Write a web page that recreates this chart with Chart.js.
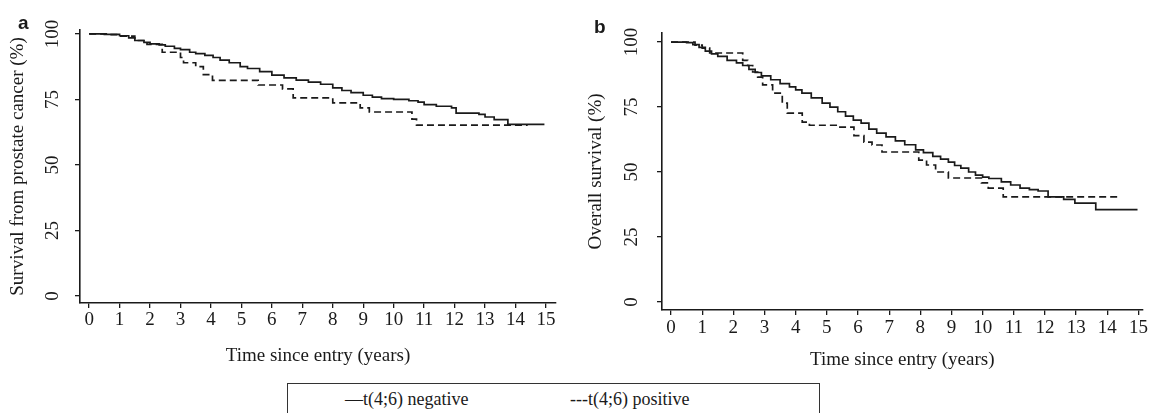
<!DOCTYPE html>
<html>
<head>
<meta charset="utf-8">
<script src="https://cdn.jsdelivr.net/npm/chart.js@4"></script>
<style>
  body { margin: 0; background: #fff; }
  #wrap { position: relative; width: 1150px; height: 413px; overflow: hidden; font-family: "Liberation Serif", serif; color: #1a1a1a; }
  canvas { position: absolute; top: 0; }
  .panel { position: absolute; font-family: "Liberation Sans", Arial, sans-serif; font-weight: bold; font-size: 19px; }
  #legendBox { position: absolute; left: 287px; top: 383px; width: 533px; height: 45px; border: 1.5px solid #333; box-sizing: border-box; }
  .leg { position: absolute; top: 389px; font-size: 18px; line-height: 21px; white-space: nowrap; }
</style>
</head>
<body>
<div id="wrap">
  <canvas id="chartA" width="575" height="375" style="left:0"></canvas>
  <canvas id="chartB" width="575" height="375" style="left:575px"></canvas>
  <div class="panel" style="left:18px; top:12px;">a</div>
  <div class="panel" style="left:594px; top:16px;">b</div>
  <div id="legendBox"></div>
  <div class="leg" style="left:345px;">—t(4;6) negative</div>
  <div class="leg" style="left:570px;">---t(4;6) positive</div>
</div>
<script>
// ===============================
//   DATOS
// ===============================
const xTicks = [0, 1, 2, 3, 4, 5, 6, 7, 8, 9, 10, 11, 12, 13, 14, 15];
const yTicks = [0, 25, 50, 75, 100];

// a — supervivencia por cáncer de próstata
const timeNegA = [0, 0.5, 1.0, 1.3, 1.5, 1.8, 2.0, 2.3, 2.5, 2.8, 3.0, 3.3, 3.5, 3.8, 4.07, 4.3, 4.6, 4.96, 5.2, 5.6, 6.0, 6.4, 6.8, 7.2, 7.6, 8.0, 8.3, 8.6, 9.0, 9.3, 9.6, 10.0, 10.5, 10.8, 11.0, 11.4, 11.9, 12.05, 12.8, 13.0, 13.3, 13.75, 14.95];
const survNegA = [100, 99.8, 99.3, 98.5, 97.5, 96.8, 96.2, 95.8, 95.3, 94.5, 94, 93, 92.5, 91.8, 91, 90, 89, 87.5, 86.8, 85.6, 84.3, 83.2, 82.4, 81.6, 80.8, 79.4, 78.4, 77.6, 76.6, 75.9, 75.3, 75, 74.5, 74, 73, 72.4, 71.8, 69.8, 69.3, 68.3, 67.3, 65.5, 65.5];
const timePosA = [0, 0.6, 1.0, 1.5, 1.9, 2.4, 3.0, 3.1, 3.5, 3.75, 4.05, 5.55, 6.35, 6.7, 8.0, 8.9, 9.2, 10.6, 10.75, 14.4];
const survPosA = [100, 99.7, 99.2, 97.5, 96, 93, 91, 89, 87.5, 84.5, 82.3, 80.5, 79, 75.6, 73.7, 71.8, 70.2, 67.5, 65.2, 65.2];

// b — supervivencia global
const timeNegB = [0, 0.5, 0.7, 0.9, 1.1, 1.3, 1.5, 1.8, 2.1, 2.3, 2.5, 2.7, 2.9, 3.2, 3.5, 3.8, 4.0, 4.2, 4.5, 4.85, 5.1, 5.35, 5.6, 5.85, 6.1, 6.35, 6.6, 6.9, 7.2, 7.5, 7.85, 8.1, 8.4, 8.65, 8.9, 9.1, 9.3, 9.55, 9.77, 10.0, 10.2, 10.6, 10.9, 11.2, 11.5, 11.78, 12.1, 12.6, 12.96, 13.63, 14.97];
const survNegB = [100, 99.8, 99, 98, 96.5, 95.5, 94.5, 93, 92, 91, 89.5, 88.3, 87, 85.5, 84, 82.8, 81.6, 80.4, 78.5, 76.5, 75, 73.2, 71.5, 70, 68.8, 66.5, 65, 63.5, 62, 60.5, 58.5, 57.5, 56, 55, 53.8, 52.5, 51.5, 50, 48.8, 48, 47.5, 46.2, 45, 43.8, 43.2, 42.7, 40.4, 39.5, 38, 35.5, 35.5];
const timePosB = [0, 0.77, 1.0, 1.24, 2.3, 2.46, 2.62, 2.78, 2.94, 3.26, 3.57, 3.73, 4.21, 4.44, 5.3, 5.87, 6.19, 6.45, 6.77, 7.95, 8.2, 8.49, 8.9, 9.96, 10.18, 10.66, 14.43];
const survPosB = [100, 98.8, 97.7, 95.8, 93, 91, 88.5, 86.5, 83.5, 80.4, 76.5, 72.7, 69.2, 68, 67.3, 64, 61.5, 60.4, 57.7, 54.6, 52.7, 50, 47.7, 45.8, 43.8, 40.4, 40.4];

const ink = "#1a1a1a";
const serif = "'Liberation Serif', 'Times New Roman', serif";
const fontSize = 19;

function toPoints(times, values) {
  return times.map((t, i) => ({ x: t, y: values[i] }));
}

// etiquetas del eje Y giradas 90° (estilo R)
const rotatedYLabels = {
  id: "rotatedYLabels",
  afterDraw(chart, args, opts) {
    const ctx = chart.ctx;
    const y = chart.scales.y;
    ctx.save();
    ctx.fillStyle = ink;
    ctx.font = fontSize + "px " + serif;
    ctx.textAlign = "center";
    ctx.textBaseline = "middle";
    yTicks.forEach(v => {
      ctx.save();
      ctx.translate(y.right - opts.offset, y.getPixelForValue(v));
      ctx.rotate(-Math.PI / 2);
      ctx.fillText(String(v), 0, 0);
      ctx.restore();
    });
    ctx.restore();
  }
};

function makeChart(id, neg, pos, cfg) {
  const ctx = document.getElementById(id).getContext("2d");
  return new Chart(ctx, {
    type: "line",
    data: {
      datasets: [
        { label: "t(4;6) negative", data: neg, borderColor: ink, borderWidth: 1.7, stepped: true, pointRadius: 0, fill: false },
        { label: "t(4;6) positive", data: pos, borderColor: ink, borderWidth: 1.7, borderDash: [7, 4], stepped: true, pointRadius: 0, fill: false }
      ]
    },
    plugins: [rotatedYLabels],
    options: {
      responsive: false,
      animation: false,
      layout: { padding: { top: cfg.top, right: cfg.right, left: 0, bottom: 0 } },
      plugins: {
        legend: { display: false },
        tooltip: { enabled: false },
        rotatedYLabels: { offset: cfg.labelOffset }
      },
      scales: {
        x: {
          type: "linear",
          min: cfg.xMin,
          max: cfg.xMax,
          afterBuildTicks: s => { s.ticks = xTicks.map(v => ({ value: v })); },
          afterFit: s => { s.height = cfg.xHeight; },
          ticks: { color: ink, font: { family: serif, size: fontSize }, padding: cfg.xTickPad, maxRotation: 0, autoSkip: false },
          grid: { drawOnChartArea: false, drawTicks: true, tickLength: 5, color: ink, lineWidth: 1.3 },
          border: { display: true, color: ink, width: 1.6 },
          title: { display: true, text: "Time since entry (years)", color: ink, font: { family: serif, size: fontSize }, padding: { top: 0, bottom: cfg.xTitlePad } }
        },
        y: {
          type: "linear",
          min: cfg.yMin,
          max: cfg.yMax,
          afterBuildTicks: s => { s.ticks = yTicks.map(v => ({ value: v })); },
          afterFit: s => { s.width = cfg.yWidth; },
          ticks: { display: false },
          grid: { drawOnChartArea: false, drawTicks: true, tickLength: 5, color: ink, lineWidth: 1.3 },
          border: { display: true, color: ink, width: 1.6 },
          title: { display: true, text: cfg.yTitle, color: ink, font: { family: serif, size: fontSize }, padding: { top: cfg.yTitlePad, bottom: 0 } }
        }
      }
    }
  });
}

makeChart("chartA", toPoints(timeNegA, survNegA), toPoints(timePosA, survPosA), {
  top: 30, right: 19, xHeight: 72, yWidth: 80,
  xMin: -0.3, xMax: 15.33, yMin: -2.7, yMax: 101.5,
  xTickPad: 1, xTitlePad: 8, yTitlePad: 7, labelOffset: 27,
  yTitle: "Survival from prostate cancer (%)"
});

makeChart("chartB", toPoints(timeNegB, survNegB), toPoints(timePosB, survPosB), {
  top: 33, right: 5, xHeight: 65, yWidth: 87,
  xMin: -0.29, xMax: 15.13, yMin: -3.1, yMax: 103.5,
  xTickPad: 2, xTitlePad: 4, yTitlePad: 10, labelOffset: 30,
  yTitle: "Overall survival (%)"
});
</script>
</body>
</html>
